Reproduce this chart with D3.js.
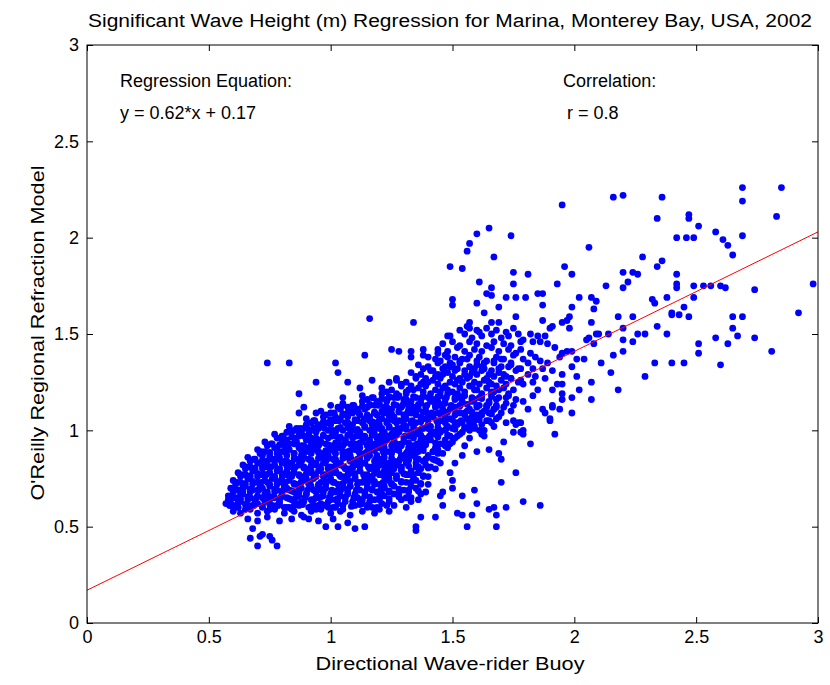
<!DOCTYPE html>
<html>
<head>
<meta charset="utf-8">
<script src="https://cdn.jsdelivr.net/npm/d3@7"></script>
<style>
  body { margin: 0; background: #fff; }
  text { font-family: "Liberation Sans", Arial, sans-serif; fill: #000; }
</style>
</head>
<body>
<div id="chart"></div>
<script>
'use strict';

const titleText = "Significant Wave Height (m) Regression for Marina, Monterey Bay, USA, 2002";
const xLabel = "Directional Wave-rider Buoy";
const yLabel = "O'Reilly Regional Refraction Model";
const xTicks = [0, 0.5, 1, 1.5, 2, 2.5, 3];
const yTicks = [0, 0.5, 1, 1.5, 2, 2.5, 3];
const tickLabels = ["0", "0.5", "1", "1.5", "2", "2.5", "3"];
const slope = 0.62;
const intercept = 0.17;
const correlation = 0.8;

// scattered points outside the main cloud [buoy Hs, model Hs]
const sparsePoints = [
  [0.74,1.35],[0.83,1.35],[1.02,1.35],[1.03,1.30],[0.94,1.25],[1.07,1.25],[0.87,1.19],[1.05,1.17],[1.12,1.22],[1.00,1.13],
  [0.89,1.12],[0.87,1.09],[0.94,1.09],[1.03,1.12],[1.05,1.13],[1.09,1.10],[0.82,0.99],[0.87,0.99],[0.89,1.01],
  [0.68,0.49],[0.67,0.44],[0.71,0.45],[0.72,0.46],[0.75,0.45],[0.76,0.43],[0.70,0.40],[0.78,0.40],[0.98,0.50],[1.03,0.50],
  [1.10,0.49],[0.91,0.54],[0.58,0.64],[0.59,0.61],
  [1.60,2.02],[1.65,2.05],[1.74,2.01],[1.57,1.97],[1.56,1.93],[1.67,1.90],[1.49,1.85],[1.54,1.84],[1.75,1.82],[1.81,1.81],
  [1.61,1.77],[1.75,1.76],[1.66,1.74],[1.64,1.71],[1.66,1.70],[1.72,1.69],[1.76,1.69],[1.80,1.69],[1.50,1.68],[1.85,1.71],
  [1.95,2.17],[2.16,2.21],[2.20,2.22],[2.36,2.21],[2.34,2.10],[2.42,2.00],[2.06,1.95],[2.28,1.90],[2.36,1.88],[2.34,1.85],
  [2.42,1.81],[1.96,1.85],[1.99,1.81],[2.20,1.82],[2.24,1.82],[2.26,1.81],[1.93,1.76],[2.13,1.75],[2.22,1.77],[2.20,1.74],
  [2.42,1.76],[2.42,1.74],[1.87,1.71],[2.02,1.69],[2.07,1.69],[2.32,1.68],[2.38,1.69],
  [2.69,2.26],[2.85,2.26],[2.69,2.19],[2.47,2.12],[2.47,2.10],[2.83,2.11],[2.51,2.06],[2.46,2.00],[2.49,2.00],[2.58,2.03],
  [2.61,1.99],[2.69,2.01],[2.63,1.96],[2.65,1.91],[2.49,1.75],[2.53,1.75],[2.56,1.75],[2.60,1.75],[2.62,1.74],[2.74,1.73],
  [2.98,1.76],[2.49,1.69],
  [2.45,1.64],[2.43,1.60],[2.47,1.59],[2.65,1.59],[2.69,1.59],[2.92,1.61],[2.65,1.53],[2.58,1.48],[2.67,1.49],[2.63,1.45],
  [2.74,1.48],[2.51,1.45],[2.51,1.40],[2.81,1.41],[2.45,1.35],[2.60,1.34],
  [2.33,1.66],[2.40,1.61],[2.40,1.60],[2.18,1.59],[2.24,1.59],[2.34,1.54],[2.20,1.53],[2.26,1.50],[2.29,1.50],[2.38,1.50],
  [2.07,1.56],[2.14,1.50],[2.10,1.50],[2.09,1.50],[2.20,1.47],[2.24,1.46],[2.05,1.47],[2.06,1.48],[2.08,1.45],[2.16,1.39],
  [2.20,1.41],[2.11,1.35],[2.33,1.35],[2.40,1.35],[2.15,1.30],[2.29,1.28],[2.07,1.25],[2.18,1.21],[2.07,1.16],[1.99,1.09],
  [1.92,0.98],[2.01,1.37],[2.04,1.37],[1.99,1.33],[2.01,1.28],[2.02,1.21],[1.99,1.17],[1.95,1.24],[1.93,1.24],[1.95,1.19],
  [1.95,1.16],[1.91,1.21],[1.91,1.13],[1.91,1.12],[1.94,1.11],[1.87,1.11],[1.88,1.09],[1.90,1.06],[1.81,1.11],[1.79,1.15],
  [1.83,1.18],[1.85,1.21],[1.78,1.26],[1.83,1.25],[1.87,1.65],[1.99,1.64],[2.08,1.63],[2.09,1.67],[1.98,1.59],[1.97,1.57],
  [1.95,1.56],[1.87,1.57],[1.91,1.54],[1.90,1.53],[1.98,1.53],[1.82,1.50],[1.85,1.49],[1.88,1.49],[1.79,1.47],[1.83,1.46],
  [1.86,1.46],[1.89,1.45],[1.92,1.43],[1.95,1.40],[1.97,1.41],[1.99,1.41],[1.94,1.38],[1.78,1.42],[1.82,1.40],[1.84,1.38],
  [1.86,1.36],[1.89,1.35],[1.81,1.35],[1.78,1.32],[1.83,1.32],[1.87,1.32],[1.91,1.31],[1.95,1.29],[1.81,1.29],[1.84,1.28],
  [1.88,1.27],[1.79,1.24],[1.79,1.00],[1.78,1.04],
  [1.75,1.05],[1.77,1.04],[1.76,1.03],[1.90,1.05],[1.75,0.99],[1.78,0.99],[1.79,0.98],[1.71,0.94],[1.82,0.93],[1.69,0.88],
  [1.70,0.85],[1.76,0.78],[1.70,0.73],[1.79,0.63],[1.72,0.60],[1.86,0.61],
  [1.65,0.90],[1.59,0.69],[1.54,0.66],[1.60,0.62],[1.65,0.59],[1.67,0.60],[1.68,0.56],[1.52,0.57],[1.54,0.56],[1.58,0.56],
  [1.56,0.50],[1.68,0.50],[1.46,0.61],[1.43,0.55],[1.35,0.50],[1.35,0.48],[1.14,0.50],[1.37,0.55],[1.45,0.66],[1.50,0.70],
  [1.50,0.74],[1.46,0.68],[1.51,0.83],[1.49,0.78],[1.45,0.83],[1.54,0.87],[1.60,0.89],[1.61,1.00],[1.63,0.97],[1.57,1.03],
  [1.59,1.05],[1.48,0.91],[1.49,0.93],[1.44,0.90],
  [1.16,1.58],[1.34,1.56],[1.48,1.49],[1.50,1.65],[1.60,1.66],[1.69,1.64],[1.63,1.61],[1.76,1.59],[1.57,1.56],[1.56,1.54],
  [1.60,1.52],[1.66,1.56],[1.69,1.56],[1.14,1.39],[1.25,1.42],[1.28,1.41],[1.33,1.41],[1.33,1.38],[1.38,1.42],[1.38,1.39],
  [1.17,1.26],[1.24,1.25],[1.27,1.27],[1.44,1.40],[1.48,1.38]
];

// points of the dense central cloud
const densePoints = [
  [1.53,1.52],[1.57,1.53],[1.61,1.51],[1.64,1.53],[1.68,1.52],[1.72,1.51],[1.75,1.53],
  [1.49,1.49],[1.55,1.50],[1.58,1.48],[1.62,1.49],[1.66,1.50],[1.70,1.48],[1.73,1.49],[1.77,1.50],
  [1.46,1.45],[1.50,1.46],[1.53,1.44],[1.57,1.46],[1.60,1.45],[1.64,1.44],[1.67,1.46],[1.71,1.45],[1.74,1.44],[1.78,1.46],
  [1.44,1.42],[1.48,1.41],[1.52,1.43],[1.55,1.41],[1.59,1.42],[1.62,1.41],[1.66,1.43],[1.69,1.41],[1.73,1.42],[1.76,1.40],
  [1.40,1.38],[1.43,1.37],[1.47,1.39],[1.51,1.38],[1.54,1.37],[1.57,1.39],[1.61,1.38],[1.64,1.36],[1.68,1.38],[1.71,1.37],[1.75,1.39],[1.79,1.37],
  [1.36,1.34],[1.40,1.33],[1.44,1.35],[1.47,1.33],[1.50,1.34],[1.53,1.35],[1.57,1.33],[1.60,1.34],[1.63,1.32],[1.67,1.35],[1.70,1.33],[1.74,1.34],[1.77,1.32],
  [1.33,1.30],[1.37,1.29],[1.41,1.31],[1.44,1.29],[1.48,1.30],[1.51,1.31],[1.55,1.29],[1.58,1.30],[1.62,1.31],[1.65,1.29],[1.69,1.30],[1.72,1.28],[1.76,1.31],
  [1.27,1.26],[1.31,1.25],[1.35,1.27],[1.38,1.25],[1.42,1.26],[1.45,1.27],[1.49,1.25],[1.52,1.26],[1.56,1.27],[1.59,1.25],[1.63,1.26],[1.66,1.24],[1.70,1.26],[1.74,1.27],[1.77,1.25],
  [1.21,1.22],[1.25,1.21],[1.29,1.23],[1.32,1.21],[1.36,1.22],[1.39,1.23],[1.43,1.21],[1.46,1.22],[1.50,1.20],[1.53,1.22],[1.57,1.23],[1.60,1.21],[1.64,1.22],[1.67,1.20],[1.71,1.22],[1.75,1.21],
  [1.13,1.18],[1.17,1.17],[1.21,1.19],[1.24,1.17],[1.28,1.18],[1.31,1.19],[1.35,1.17],[1.38,1.18],[1.42,1.16],[1.45,1.18],[1.48,1.19],[1.52,1.17],[1.55,1.18],[1.59,1.16],[1.62,1.18],[1.66,1.19],[1.69,1.17],[1.73,1.18],[1.76,1.16],
  [1.05,1.14],[1.09,1.13],[1.13,1.15],[1.16,1.13],[1.20,1.14],[1.23,1.15],[1.27,1.13],[1.30,1.14],[1.34,1.12],[1.37,1.14],[1.41,1.15],[1.44,1.13],[1.47,1.14],[1.51,1.12],[1.54,1.14],[1.58,1.15],[1.61,1.13],[1.65,1.14],[1.68,1.12],[1.72,1.14],[1.75,1.13],
  [0.96,1.10],[1.00,1.09],[1.04,1.11],[1.07,1.09],[1.11,1.10],[1.14,1.11],[1.18,1.09],[1.21,1.10],[1.25,1.08],[1.28,1.10],[1.32,1.11],[1.35,1.09],[1.39,1.10],[1.42,1.08],[1.46,1.10],[1.49,1.11],[1.53,1.09],[1.56,1.10],[1.60,1.08],[1.63,1.10],[1.67,1.11],[1.70,1.09],[1.74,1.10],
  [0.90,1.06],[0.93,1.05],[0.97,1.07],[1.00,1.05],[1.04,1.06],[1.07,1.07],[1.11,1.05],[1.14,1.06],[1.18,1.04],[1.21,1.06],[1.24,1.07],[1.28,1.05],[1.31,1.06],[1.35,1.04],[1.38,1.06],[1.42,1.07],[1.45,1.05],[1.49,1.06],[1.52,1.04],[1.56,1.06],[1.60,1.07],[1.64,1.05],[1.68,1.06],[1.72,1.04],
  [0.83,1.02],[0.86,1.01],[0.90,1.03],[0.93,1.01],[0.97,1.02],[1.00,1.03],[1.03,1.01],[1.07,1.02],[1.10,1.00],[1.14,1.02],[1.17,1.03],[1.21,1.01],[1.24,1.02],[1.27,1.00],[1.31,1.02],[1.34,1.03],[1.38,1.01],[1.41,1.02],[1.45,1.00],[1.48,1.02],[1.52,1.03],[1.55,1.01],[1.59,1.02],[1.63,1.00],[1.67,1.02],
  [0.77,0.98],[0.80,0.97],[0.84,0.99],[0.87,0.97],[0.91,0.98],[0.94,0.99],[0.97,0.97],[1.01,0.98],[1.04,0.96],[1.08,0.98],[1.11,0.99],[1.14,0.97],[1.18,0.98],[1.21,0.96],[1.25,0.98],[1.28,0.99],[1.32,0.97],[1.35,0.98],[1.38,0.96],[1.42,0.98],[1.45,0.99],[1.49,0.97],[1.53,0.98],[1.57,0.96],[1.62,0.98],
  [0.73,0.94],[0.76,0.93],[0.80,0.95],[0.83,0.93],[0.86,0.94],[0.90,0.95],[0.93,0.93],[0.96,0.94],[1.00,0.92],[1.03,0.94],[1.06,0.95],[1.10,0.93],[1.13,0.94],[1.17,0.92],[1.20,0.94],[1.23,0.95],[1.27,0.93],[1.30,0.94],[1.34,0.92],[1.37,0.94],[1.41,0.95],[1.45,0.93],[1.50,0.94],[1.55,0.92],
  [0.70,0.90],[0.73,0.89],[0.77,0.91],[0.80,0.89],[0.83,0.90],[0.87,0.91],[0.90,0.89],[0.93,0.90],[0.97,0.88],[1.00,0.90],[1.03,0.91],[1.07,0.89],[1.10,0.90],[1.14,0.88],[1.17,0.90],[1.20,0.91],[1.24,0.89],[1.27,0.90],[1.31,0.88],[1.34,0.90],[1.38,0.91],[1.42,0.89],[1.46,0.88],
  [0.66,0.86],[0.69,0.85],[0.72,0.87],[0.76,0.85],[0.79,0.86],[0.82,0.87],[0.86,0.85],[0.89,0.86],[0.92,0.84],[0.96,0.86],[0.99,0.87],[1.02,0.85],[1.06,0.86],[1.09,0.84],[1.12,0.86],[1.16,0.87],[1.19,0.85],[1.22,0.86],[1.26,0.84],[1.29,0.86],[1.33,0.87],[1.36,0.85],[1.40,0.86],[1.44,0.84],
  [0.64,0.82],[0.67,0.81],[0.70,0.83],[0.74,0.81],[0.77,0.82],[0.80,0.83],[0.84,0.81],[0.87,0.82],[0.90,0.80],[0.94,0.82],[0.97,0.83],[1.00,0.81],[1.04,0.82],[1.07,0.80],[1.10,0.82],[1.14,0.83],[1.17,0.81],[1.20,0.82],[1.24,0.80],[1.27,0.82],[1.31,0.83],[1.35,0.81],[1.39,0.82],[1.43,0.80],
  [0.62,0.78],[0.65,0.77],[0.68,0.79],[0.72,0.77],[0.75,0.78],[0.78,0.79],[0.82,0.77],[0.85,0.78],[0.88,0.76],[0.92,0.78],[0.95,0.79],[0.98,0.77],[1.02,0.78],[1.05,0.76],[1.08,0.78],[1.12,0.79],[1.15,0.77],[1.18,0.78],[1.22,0.76],[1.25,0.78],[1.29,0.79],[1.32,0.77],[1.36,0.78],[1.40,0.76],
  [0.60,0.74],[0.63,0.73],[0.66,0.75],[0.70,0.73],[0.73,0.74],[0.76,0.75],[0.80,0.73],[0.83,0.74],[0.86,0.72],[0.90,0.74],[0.93,0.75],[0.96,0.73],[1.00,0.74],[1.03,0.72],[1.06,0.74],[1.10,0.75],[1.13,0.73],[1.16,0.74],[1.20,0.72],[1.23,0.74],[1.27,0.75],[1.31,0.73],[1.35,0.74],[1.40,0.72],
  [0.59,0.70],[0.62,0.69],[0.65,0.71],[0.68,0.69],[0.72,0.70],[0.75,0.71],[0.78,0.69],[0.82,0.70],[0.85,0.68],[0.88,0.70],[0.92,0.71],[0.95,0.69],[0.98,0.70],[1.02,0.68],[1.05,0.70],[1.08,0.71],[1.12,0.69],[1.15,0.70],[1.19,0.68],[1.22,0.70],[1.26,0.71],[1.30,0.69],[1.35,0.70],[1.39,0.68],
  [0.58,0.66],[0.61,0.65],[0.64,0.67],[0.67,0.65],[0.70,0.66],[0.74,0.67],[0.77,0.65],[0.80,0.66],[0.84,0.64],[0.87,0.66],[0.90,0.67],[0.94,0.65],[0.97,0.66],[1.00,0.64],[1.04,0.66],[1.07,0.67],[1.11,0.65],[1.14,0.66],[1.18,0.64],[1.22,0.66],[1.26,0.67],[1.31,0.65],[1.36,0.64],
  [0.57,0.62],[0.60,0.61],[0.63,0.63],[0.66,0.61],[0.70,0.62],[0.73,0.63],[0.76,0.61],[0.79,0.62],[0.83,0.60],[0.86,0.62],[0.89,0.63],[0.93,0.61],[0.96,0.62],[0.99,0.60],[1.03,0.62],[1.06,0.63],[1.10,0.61],[1.13,0.62],[1.17,0.60],[1.21,0.62],[1.26,0.61],[1.31,0.60],
  [0.60,0.58],[0.63,0.57],[0.67,0.59],[0.70,0.57],[0.74,0.58],[0.77,0.59],[0.81,0.57],[0.85,0.58],[0.88,0.56],[0.92,0.58],[0.96,0.59],[1.00,0.57],[1.04,0.58],[1.08,0.56],[1.13,0.58],[1.18,0.57],[1.24,0.58],
  [0.66,0.54],[0.70,0.53],[0.74,0.55],[0.79,0.53],[0.84,0.54],[0.89,0.55],[0.95,0.53],[1.01,0.54],[1.07,0.52]
];

// extra points where the cloud is solid blue
const corePoints = [
  [0.62,0.60],[0.65,0.59],[0.68,0.61],[0.72,0.60],[0.75,0.59],[0.78,0.61],[0.81,0.60],[0.84,0.59],[0.87,0.61],[0.91,0.60],[0.94,0.59],[0.98,0.61],[1.01,0.60],[1.05,0.59],[1.09,0.61],[1.15,0.60],[1.20,0.59],
  [0.59,0.64],[0.62,0.63],[0.66,0.64],[0.69,0.63],[0.72,0.65],[0.75,0.64],[0.79,0.63],[0.82,0.65],[0.85,0.64],[0.88,0.63],[0.92,0.64],[0.95,0.65],[0.99,0.63],[1.02,0.64],[1.06,0.65],[1.09,0.63],[1.12,0.64],[1.16,0.63],[1.20,0.64],[1.24,0.63],[1.29,0.64],[1.33,0.63],
  [0.60,0.68],[0.63,0.67],[0.67,0.68],[0.70,0.69],[0.73,0.67],[0.77,0.68],[0.80,0.67],[0.83,0.69],[0.87,0.68],[0.90,0.67],[0.93,0.69],[0.97,0.68],[1.00,0.67],[1.03,0.69],[1.07,0.68],[1.10,0.67],[1.14,0.68],[1.17,0.69],[1.21,0.67],[1.24,0.68],[1.28,0.67],[1.32,0.68],[1.37,0.67],
  [0.61,0.72],[0.64,0.71],[0.68,0.72],[0.71,0.71],[0.74,0.73],[0.78,0.72],[0.81,0.71],[0.85,0.72],[0.88,0.73],[0.91,0.72],[0.95,0.71],[0.98,0.72],[1.01,0.73],[1.05,0.72],[1.08,0.71],[1.11,0.72],[1.15,0.73],[1.18,0.72],[1.22,0.71],[1.25,0.72],[1.29,0.73],[1.33,0.71],[1.37,0.72],
  [0.63,0.76],[0.67,0.75],[0.70,0.76],[0.73,0.77],[0.77,0.76],[0.80,0.75],[0.84,0.76],[0.87,0.77],[0.90,0.75],[0.94,0.76],[0.97,0.77],[1.00,0.75],[1.04,0.76],[1.07,0.77],[1.10,0.76],[1.14,0.75],[1.17,0.76],[1.20,0.77],[1.24,0.75],[1.27,0.76],[1.31,0.77],[1.34,0.75],[1.38,0.76],
  [0.65,0.80],[0.69,0.79],[0.72,0.80],[0.75,0.81],[0.79,0.80],[0.82,0.79],[0.85,0.80],[0.89,0.81],[0.92,0.79],[0.96,0.80],[0.99,0.81],[1.02,0.79],[1.06,0.80],[1.09,0.81],[1.12,0.79],[1.16,0.80],[1.19,0.81],[1.22,0.79],[1.26,0.80],[1.29,0.81],[1.33,0.79],[1.37,0.80],[1.41,0.81],
  [0.67,0.84],[0.71,0.83],[0.74,0.84],[0.77,0.85],[0.81,0.84],[0.84,0.83],[0.88,0.84],[0.91,0.85],[0.94,0.83],[0.98,0.84],[1.01,0.85],[1.04,0.83],[1.08,0.84],[1.11,0.85],[1.14,0.83],[1.18,0.84],[1.21,0.85],[1.24,0.83],[1.28,0.84],[1.31,0.85],[1.35,0.83],[1.38,0.84],[1.42,0.85],
  [0.71,0.88],[0.75,0.87],[0.78,0.88],[0.81,0.89],[0.85,0.88],[0.88,0.87],[0.92,0.88],[0.95,0.89],[0.98,0.87],[1.02,0.88],[1.05,0.89],[1.08,0.87],[1.12,0.88],[1.15,0.89],[1.19,0.87],[1.22,0.88],[1.25,0.89],[1.29,0.87],[1.32,0.88],[1.36,0.89],[1.40,0.87],[1.44,0.88],
  [0.74,0.92],[0.78,0.91],[0.81,0.92],[0.85,0.93],[0.88,0.92],[0.91,0.91],[0.95,0.92],[0.98,0.93],[1.01,0.91],[1.05,0.92],[1.08,0.93],[1.12,0.91],[1.15,0.92],[1.18,0.93],[1.22,0.91],[1.25,0.92],[1.29,0.93],[1.32,0.91],[1.36,0.92],[1.39,0.93],[1.43,0.91],[1.47,0.92],
  [0.78,0.96],[0.82,0.95],[0.85,0.96],[0.89,0.97],[0.92,0.96],[0.95,0.95],[0.99,0.96],[1.02,0.97],[1.06,0.95],[1.09,0.96],[1.12,0.97],[1.16,0.95],[1.19,0.96],[1.23,0.97],[1.26,0.95],[1.30,0.96],[1.33,0.97],[1.37,0.95],[1.40,0.96],[1.44,0.97],[1.47,0.95],[1.51,0.96],
  [0.85,1.00],[0.88,0.99],[0.92,1.00],[0.95,1.01],[0.99,1.00],[1.02,0.99],[1.05,1.00],[1.09,1.01],[1.12,0.99],[1.16,1.00],[1.19,1.01],[1.22,0.99],[1.26,1.00],[1.29,1.01],[1.33,0.99],[1.36,1.00],[1.40,1.01],[1.43,0.99],[1.47,1.00],[1.50,1.01],[1.54,0.99],[1.57,1.00],
  [0.92,1.04],[0.95,1.03],[0.99,1.04],[1.02,1.05],[1.06,1.04],[1.09,1.03],[1.13,1.04],[1.16,1.05],[1.20,1.03],[1.23,1.04],[1.26,1.05],[1.30,1.03],[1.33,1.04],[1.37,1.05],[1.40,1.03],[1.44,1.04],[1.47,1.05],[1.51,1.03],[1.54,1.04],[1.58,1.05],[1.62,1.03],[1.66,1.04],
  [0.98,1.08],[1.02,1.07],[1.05,1.08],[1.09,1.09],[1.12,1.08],[1.16,1.07],[1.19,1.08],[1.23,1.09],[1.26,1.07],[1.30,1.08],[1.33,1.09],[1.37,1.07],[1.40,1.08],[1.44,1.09],[1.47,1.07],[1.51,1.08],[1.55,1.09],[1.58,1.07],[1.62,1.08],[1.65,1.09],[1.69,1.07],
  [1.07,1.12],[1.11,1.11],[1.15,1.12],[1.18,1.13],[1.22,1.12],[1.25,1.11],[1.29,1.12],[1.32,1.13],[1.36,1.11],[1.39,1.12],[1.43,1.13],[1.46,1.11],[1.50,1.12],[1.53,1.13],[1.57,1.11],[1.60,1.12],[1.64,1.13],[1.67,1.11],[1.71,1.12],
  [1.15,1.16],[1.19,1.15],[1.23,1.16],[1.26,1.17],[1.30,1.16],[1.33,1.15],[1.37,1.16],[1.40,1.17],[1.44,1.15],[1.47,1.16],[1.51,1.17],[1.54,1.15],[1.58,1.16],[1.61,1.17],[1.65,1.15],[1.68,1.16],[1.72,1.17],
  [1.23,1.20],[1.27,1.19],[1.31,1.20],[1.34,1.21],[1.38,1.20],[1.41,1.19],[1.45,1.20],[1.48,1.21],[1.52,1.19],[1.55,1.20],[1.59,1.21],[1.62,1.19],[1.66,1.20],[1.69,1.21],[1.73,1.19],
  [1.29,1.24],[1.33,1.23],[1.37,1.24],[1.40,1.25],[1.44,1.24],[1.47,1.23],[1.51,1.24],[1.54,1.25],[1.58,1.23],[1.61,1.24],[1.65,1.25],[1.68,1.23],[1.72,1.24],
  [1.35,1.28],[1.39,1.27],[1.43,1.28],[1.46,1.29],[1.50,1.28],[1.53,1.27],[1.57,1.28],[1.60,1.29],[1.64,1.27],[1.67,1.28],[1.71,1.29],[1.74,1.27],
  [1.38,1.32],[1.42,1.31],[1.46,1.32],[1.49,1.33],[1.52,1.32],[1.55,1.31],[1.59,1.32],[1.62,1.33],[1.66,1.31],[1.69,1.32],[1.73,1.33],
  [1.45,1.36],[1.49,1.35],[1.53,1.36],[1.56,1.37],[1.60,1.36],[1.63,1.35],[1.67,1.36],[1.70,1.37],[1.74,1.35]
];

// more points filling the gaps of the densest part
const fillPoints = [
  [0.585,0.61],[0.62,0.60],[0.65,0.615],[0.685,0.61],[0.72,0.605],[0.75,0.615],[0.785,0.61],[0.82,0.60],[0.85,0.61],[0.885,0.615],[0.92,0.605],[0.95,0.61],[0.985,0.615],[1.02,0.60],[1.05,0.61],[1.085,0.605],[1.12,0.615],[1.15,0.61],[1.19,0.60],[1.23,0.61],
  [0.595,0.65],[0.63,0.645],[0.66,0.655],[0.695,0.65],[0.73,0.64],[0.76,0.655],[0.795,0.65],[0.83,0.645],[0.86,0.655],[0.895,0.65],[0.93,0.64],[0.96,0.655],[0.995,0.65],[1.03,0.645],[1.06,0.655],[1.095,0.65],[1.13,0.64],[1.16,0.655],[1.20,0.65],[1.24,0.645],[1.28,0.655],[1.33,0.65],
  [0.605,0.69],[0.64,0.685],[0.67,0.695],[0.705,0.69],[0.74,0.68],[0.77,0.695],[0.805,0.69],[0.84,0.685],[0.87,0.695],[0.905,0.69],[0.94,0.68],[0.97,0.695],[1.005,0.69],[1.04,0.685],[1.07,0.695],[1.105,0.69],[1.14,0.68],[1.17,0.695],[1.205,0.69],[1.24,0.685],[1.28,0.695],[1.32,0.69],[1.36,0.685],
  [0.615,0.73],[0.65,0.725],[0.68,0.735],[0.715,0.73],[0.75,0.72],[0.78,0.735],[0.815,0.73],[0.85,0.725],[0.88,0.735],[0.915,0.73],[0.95,0.72],[0.98,0.735],[1.015,0.73],[1.05,0.725],[1.08,0.735],[1.115,0.73],[1.15,0.72],[1.18,0.735],[1.215,0.73],[1.25,0.725],[1.29,0.735],[1.33,0.73],[1.37,0.725],
  [0.635,0.77],[0.67,0.765],[0.70,0.775],[0.735,0.77],[0.77,0.76],[0.80,0.775],[0.835,0.77],[0.87,0.765],[0.90,0.775],[0.935,0.77],[0.97,0.76],[1.00,0.775],[1.035,0.77],[1.07,0.765],[1.10,0.775],[1.135,0.77],[1.17,0.76],[1.20,0.775],[1.235,0.77],[1.27,0.765],[1.30,0.775],[1.34,0.77],[1.38,0.765],
  [0.655,0.81],[0.69,0.805],[0.72,0.815],[0.755,0.81],[0.79,0.80],[0.82,0.815],[0.855,0.81],[0.89,0.805],[0.92,0.815],[0.955,0.81],[0.99,0.80],[1.02,0.815],[1.055,0.81],[1.09,0.805],[1.12,0.815],[1.155,0.81],[1.19,0.80],[1.22,0.815],[1.255,0.81],[1.29,0.805],[1.32,0.815],[1.36,0.81],[1.40,0.805],
  [0.685,0.85],[0.72,0.845],[0.75,0.855],[0.785,0.85],[0.82,0.84],[0.85,0.855],[0.885,0.85],[0.92,0.845],[0.95,0.855],[0.985,0.85],[1.02,0.84],[1.05,0.855],[1.085,0.85],[1.12,0.845],[1.15,0.855],[1.185,0.85],[1.22,0.84],[1.25,0.855],[1.285,0.85],[1.32,0.845],[1.35,0.855],[1.39,0.85],[1.43,0.845],
  [0.715,0.89],[0.75,0.885],[0.78,0.895],[0.815,0.89],[0.85,0.88],[0.88,0.895],[0.915,0.89],[0.95,0.885],[0.98,0.895],[1.015,0.89],[1.05,0.88],[1.08,0.895],[1.115,0.89],[1.15,0.885],[1.18,0.895],[1.215,0.89],[1.25,0.88],[1.28,0.895],[1.315,0.89],[1.35,0.885],[1.38,0.895],[1.42,0.89],
  [0.755,0.93],[0.79,0.925],[0.82,0.935],[0.855,0.93],[0.89,0.92],[0.92,0.935],[0.955,0.93],[0.99,0.925],[1.02,0.935],[1.055,0.93],[1.09,0.92],[1.12,0.935],[1.155,0.93],[1.19,0.925],[1.22,0.935],[1.255,0.93],[1.29,0.92],[1.32,0.935],[1.355,0.93],[1.39,0.925],[1.43,0.935],[1.47,0.93],
  [0.805,0.97],[0.84,0.965],[0.87,0.975],[0.905,0.97],[0.94,0.96],[0.97,0.975],[1.005,0.97],[1.04,0.965],[1.07,0.975],[1.105,0.97],[1.14,0.96],[1.17,0.975],[1.205,0.97],[1.24,0.965],[1.27,0.975],[1.305,0.97],[1.34,0.96],[1.37,0.975],[1.405,0.97],[1.44,0.965],[1.48,0.975],[1.52,0.97],
  [0.875,1.01],[0.91,1.005],[0.94,1.015],[0.975,1.01],[1.01,1.00],[1.04,1.015],[1.075,1.01],[1.11,1.005],[1.14,1.015],[1.175,1.01],[1.21,1.00],[1.24,1.015],[1.275,1.01],[1.31,1.005],[1.34,1.015],[1.375,1.01],[1.41,1.00],[1.44,1.015],[1.475,1.01],[1.51,1.005],[1.55,1.015],[1.59,1.01],
  [0.935,1.05],[0.97,1.045],[1.00,1.055],[1.035,1.05],[1.07,1.04],[1.10,1.055],[1.135,1.05],[1.17,1.045],[1.20,1.055],[1.235,1.05],[1.27,1.04],[1.30,1.055],[1.335,1.05],[1.37,1.045],[1.40,1.055],[1.435,1.05],[1.47,1.04],[1.50,1.055],[1.535,1.05],[1.57,1.045],[1.61,1.055],[1.65,1.05],
  [1.015,1.09],[1.05,1.085],[1.08,1.095],[1.115,1.09],[1.15,1.08],[1.18,1.095],[1.215,1.09],[1.25,1.085],[1.28,1.095],[1.315,1.09],[1.35,1.08],[1.38,1.095],[1.415,1.09],[1.45,1.085],[1.48,1.095],[1.515,1.09],[1.55,1.08],[1.58,1.095],[1.62,1.09],[1.66,1.085],
  [1.095,1.13],[1.13,1.125],[1.16,1.135],[1.195,1.13],[1.23,1.12],[1.26,1.135],[1.295,1.13],[1.33,1.125],[1.36,1.135],[1.395,1.13],[1.43,1.12],[1.46,1.135],[1.495,1.13],[1.53,1.125],[1.56,1.135],[1.60,1.13],[1.64,1.12],[1.68,1.13],
  [1.175,1.17],[1.21,1.165],[1.24,1.175],[1.275,1.17],[1.31,1.16],[1.34,1.175],[1.375,1.17],[1.41,1.165],[1.44,1.175],[1.475,1.17],[1.51,1.16],[1.54,1.175],[1.58,1.17],[1.62,1.165],[1.66,1.175]
];

const width = 830, height = 685;
const margin = {top: 45, right: 12, bottom: 62, left: 87};

const svg = d3.select("#chart").append("svg")
    .attr("width", width)
    .attr("height", height);

const x = d3.scaleLinear().domain([0, 3]).range([margin.left, width - margin.right]);
const y = d3.scaleLinear().domain([0, 3]).range([height - margin.bottom, margin.top]);

// scatter
const allPoints = sparsePoints.concat(densePoints, corePoints, fillPoints);
svg.append("g")
    .selectAll("circle")
    .data(allPoints)
    .enter()
    .append("circle")
    .attr("cx", d => x(d[0]))
    .attr("cy", d => y(d[1]))
    .attr("r", 3.4)
    .attr("fill", "#0000ff");

// regression line
const line = d3.line().x(d => x(d)).y(d => y(slope * d + intercept));
svg.append("path")
    .datum([0, 3])
    .attr("d", line)
    .attr("fill", "none")
    .attr("stroke", "#ff0000")
    .attr("stroke-width", 1);

// axes, ticks pointing inwards on all four sides
const fmt = (d, i) => tickLabels[i];
const styleAxis = g => {
    g.select(".domain").remove();
    g.selectAll(".tick line").attr("stroke", "#000");
    g.selectAll(".tick text").attr("font-size", 18).attr("fill", "#000")
        .style("font-family", "'Liberation Sans', Arial, sans-serif");
};

svg.append("g")
    .attr("transform", "translate(0," + y(0) + ")")
    .call(d3.axisBottom(x).tickValues(xTicks).tickFormat(fmt).tickSize(-6).tickPadding(7))
    .call(styleAxis);

svg.append("g")
    .attr("transform", "translate(0," + y(3) + ")")
    .call(d3.axisTop(x).tickValues(xTicks).tickFormat("").tickSize(-6))
    .call(styleAxis);

svg.append("g")
    .attr("transform", "translate(" + x(0) + ",0)")
    .call(d3.axisLeft(y).tickValues(yTicks).tickFormat(fmt).tickSize(-6).tickPadding(8))
    .call(styleAxis);

svg.append("g")
    .attr("transform", "translate(" + x(3) + ",0)")
    .call(d3.axisRight(y).tickValues(yTicks).tickFormat("").tickSize(-6))
    .call(styleAxis);

// frame
svg.append("rect")
    .attr("x", x(0))
    .attr("y", y(3))
    .attr("width", x(3) - x(0))
    .attr("height", y(0) - y(3))
    .attr("fill", "none")
    .attr("stroke", "#000")
    .attr("stroke-width", 1);

// titles
svg.append("text")
    .attr("x", 450).attr("y", 27)
    .attr("text-anchor", "middle")
    .attr("font-size", 18)
    .attr("textLength", 724).attr("lengthAdjust", "spacingAndGlyphs")
    .text(titleText);

svg.append("text")
    .attr("x", 450).attr("y", 670)
    .attr("text-anchor", "middle")
    .attr("font-size", 18)
    .attr("textLength", 269).attr("lengthAdjust", "spacingAndGlyphs")
    .text(xLabel);

svg.append("text")
    .attr("transform", "translate(44,333) rotate(-90)")
    .attr("text-anchor", "middle")
    .attr("font-size", 18)
    .attr("textLength", 335).attr("lengthAdjust", "spacingAndGlyphs")
    .text(yLabel);

// annotations
svg.append("text")
    .attr("x", x(0.135)).attr("y", y(2.78))
    .attr("font-size", 18)
    .text("Regression Equation:");
svg.append("text")
    .attr("x", x(0.135)).attr("y", y(2.615))
    .attr("font-size", 18)
    .text("y = " + slope + "*x + " + intercept);
svg.append("text")
    .attr("x", x(1.954)).attr("y", y(2.78))
    .attr("font-size", 18)
    .text("Correlation:");
svg.append("text")
    .attr("x", x(1.97)).attr("y", y(2.615))
    .attr("font-size", 18)
    .text("r = " + correlation);
</script>
</body>
</html>
